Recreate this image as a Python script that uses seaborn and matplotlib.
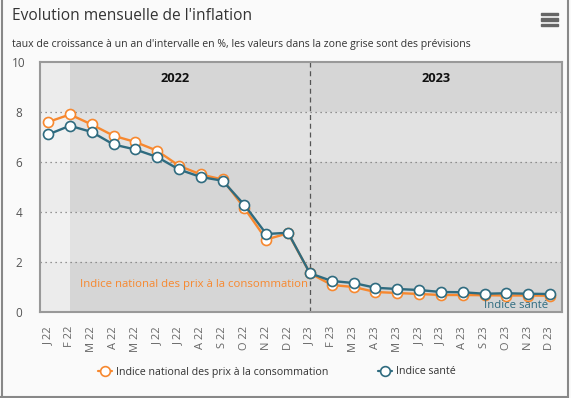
import matplotlib
matplotlib.use("Agg")
import matplotlib.pyplot as plt
from matplotlib.patches import Rectangle
from matplotlib.lines import Line2D
import seaborn as sns
import pandas as pd

# ================= DATA =================
months = ["J", "F", "M", "A", "M", "J", "J", "A", "S", "O", "N", "D"]
tick_labels = [f"{m} 22" for m in months] + [f"{m} 23" for m in months]
ipc = [7.6, 7.9, 7.5, 7.05, 6.8, 6.45, 5.85, 5.5, 5.3, 4.15, 2.9, 3.15,
       1.55, 1.08, 1.0, 0.8, 0.76, 0.72, 0.68, 0.68, 0.67, 0.66, 0.66, 0.65]
sante = [7.1, 7.45, 7.2, 6.7, 6.5, 6.2, 5.7, 5.4, 5.25, 4.28, 3.12, 3.17,
         1.55, 1.24, 1.16, 0.97, 0.92, 0.88, 0.8, 0.79, 0.73, 0.75, 0.73, 0.72]
years = ["2022", "2023"]
ipc_name = "Indice national des prix à la consommation"
sante_name = "Indice santé"

ORANGE = "#f7882f"
TEAL = "#2f6b7f"
FONT = ["Open Sans", "DejaVu Sans"]

df = pd.DataFrame({"idx": range(len(tick_labels)), "ipc": ipc, "sante": sante})

# ================= FIGURE =================
sns.set_style("white")
plt.rcParams["font.family"] = FONT

fig = plt.figure(figsize=(5.71, 3.98), dpi=100)
fig.patch.set_facecolor("#fafafa")
ax = fig.add_axes([40 / 571, 1 - 312 / 398, 522 / 571, 250 / 398])

# background bands
xmin, xmax = -0.37, 23.55
for lo in range(0, 10, 2):
    col = "#d6d6d6" if (lo // 2) % 2 == 0 else "#e2e2e2"
    ax.axhspan(lo, lo + 2, color=col, zorder=0, lw=0)
ax.axvspan(xmin, 1, color="white", alpha=0.55, zorder=0.5, lw=0)

for yv in [2, 4, 6, 8]:
    ax.axhline(yv, color="#777777", ls=(0, (1, 3)), lw=0.9, zorder=1)
ax.axvline(12, color="#555555", ls=(0, (4, 3)), lw=0.9, zorder=1)

sns.lineplot(data=df, x="idx", y="ipc", ax=ax, color=ORANGE, lw=1.7,
             marker="o", markersize=7.2, markerfacecolor="white",
             markeredgecolor=ORANGE, markeredgewidth=1.2, zorder=3)
sns.lineplot(data=df, x="idx", y="sante", ax=ax, color=TEAL, lw=1.7,
             marker="o", markersize=7.2, markerfacecolor="white",
             markeredgecolor=TEAL, markeredgewidth=1.2, zorder=4)

ax.set_xlim(xmin, xmax)
ax.set_ylim(0, 10)
ax.set_xlabel("")
ax.set_ylabel("")
ax.set_xticks(range(len(tick_labels)))
ax.set_xticklabels(tick_labels, rotation=90, fontsize=8, color="#666666")
ax.set_yticks(range(0, 11, 2))
ax.set_yticklabels([str(v) for v in range(0, 11, 2)], fontsize=8.5,
                   color="#555555", ha="center")
ax.tick_params(axis="x", length=0, pad=10)
ax.tick_params(axis="y", length=0, pad=15)
for s in ax.spines.values():
    s.set_color("#999999")
    s.set_linewidth(1.5)

# year labels
ax.text((xmin + 12) / 2, 9.32, years[0], ha="center", va="center",
        fontsize=9.3, fontweight="bold", color="#111111")
ax.text((12 + xmax) / 2, 9.32, years[1], ha="center", va="center",
        fontsize=9.3, fontweight="bold", color="#111111")

# series labels
ax.text(11.9, 1.1, ipc_name, ha="right", va="center", fontsize=8.2, color=ORANGE)
ax.text(22.9, 0.27, sante_name, ha="right", va="center", fontsize=8.2, color=TEAL)

# legend
handles = [
    Line2D([], [], color=ORANGE, lw=1.6, marker="o", markersize=7,
           markerfacecolor="white", markeredgecolor=ORANGE, markeredgewidth=1.2),
    Line2D([], [], color=TEAL, lw=1.6, marker="o", markersize=7,
           markerfacecolor="white", markeredgecolor=TEAL, markeredgewidth=1.2),
]
fig.legend(handles, [ipc_name, sante_name], loc="center",
           bbox_to_anchor=(277 / 571, 1 - 372 / 398), ncol=2, frameon=False,
           fontsize=7.7, handlelength=1.3, columnspacing=4.6, handletextpad=0.4,
           labelcolor="#333333")

# title / subtitle
fig.text(12 / 571, 1 - 16 / 398, "Evolution mensuelle de l'inflation",
         fontsize=11.2, color="#333333", ha="left", va="center")
fig.text(12 / 571, 1 - 44 / 398,
         "taux de croissance à un an d'intervalle en %, les valeurs dans la zone grise sont des prévisions",
         fontsize=7.6, color="#333333", ha="left", va="center")

# menu icon
for yy in [14, 19.5, 25]:
    fig.patches.append(Rectangle((541 / 571, 1 - (yy + 1.3) / 398), 17 / 571, 2.6 / 398,
                                 transform=fig.transFigure, color="#666666"))

# outer frame
fig.lines.append(Line2D([1.5 / 571, 1.5 / 571], [0, 1], transform=fig.transFigure,
                        color="#888888", lw=1.5))
fig.lines.append(Line2D([567.5 / 571, 567.5 / 571], [0, 1], transform=fig.transFigure,
                        color="#888888", lw=1.5))
fig.lines.append(Line2D([0, 567.5 / 571], [1.5 / 398, 1.5 / 398], transform=fig.transFigure,
                        color="#888888", lw=1.5))

fig.savefig("out.png", dpi=100, facecolor=fig.get_facecolor())
